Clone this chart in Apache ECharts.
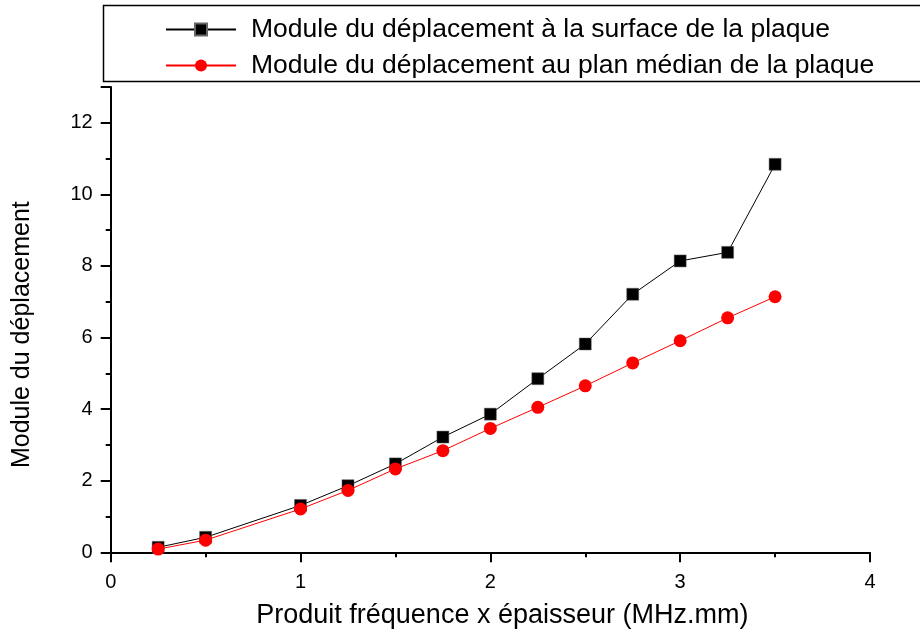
<!DOCTYPE html>
<html>
<head>
<meta charset="utf-8">
<script src="https://cdn.jsdelivr.net/npm/echarts@6/dist/echarts.min.js"></script>
<style>html,body{margin:0;padding:0;background:#fff}#c{width:920px;height:634px}</style>
</head>
<body>
<div id="c"></div>
<script>
const xValues = [0.25, 0.5, 1, 1.25, 1.5, 1.75, 2, 2.25, 2.5, 2.75, 3, 3.25, 3.5];
const surfaceValues = [0.14, 0.42, 1.31, 1.86, 2.47, 3.22, 3.86, 4.85, 5.82, 7.21, 8.14, 8.38, 10.84];
const medianValues = [0.09, 0.34, 1.21, 1.73, 2.33, 2.84, 3.46, 4.05, 4.65, 5.29, 5.91, 6.55, 7.14];
const seriesNames = ['Module du déplacement à la surface de la plaque', 'Module du déplacement au plan médian de la plaque'];
const xTitle = 'Produit fréquence x épaisseur (MHz.mm)';
const yTitle = 'Module du déplacement';

const pair = (xs, ys) => xs.map((x, i) => [x, ys[i]]);
const font = '"Liberation Sans", Arial, sans-serif';

const chart = echarts.init(document.getElementById('c'), null, {renderer: 'canvas'});
chart.setOption({
  animation: false,
  backgroundColor: '#fff',
  grid: {left: 110.7, right: 50, top: 87, bottom: 81.7, outerBoundsMode: 'none', containLabel: false},
  graphic: [{
    type: 'rect', z: 0,
    shape: {x: 103.5, y: 5.5, width: 840, height: 76},
    style: {fill: 'none', stroke: '#000', lineWidth: 1.5}
  }],
  legend: {
    orient: 'vertical', left: 165, top: 16, padding: 0,
    itemWidth: 70, itemHeight: 15, itemGap: 9,
    textStyle: {fontFamily: font, fontSize: 26.5, color: '#000', padding: [0, 0, 0, 10]},
    data: seriesNames
  },
  xAxis: {
    type: 'value', min: 0, max: 4, interval: 1,
    name: xTitle, nameLocation: 'middle', nameGap: 50,
    nameTextStyle: {fontFamily: font, fontSize: 27, color: '#000', padding: [0, 0, 0, 24]},
    axisLine: {show: true, onZero: false, lineStyle: {color: '#000', width: 2}},
    axisTick: {show: true, length: 10, lineStyle: {color: '#000', width: 2}},
    minorTick: {show: true, splitNumber: 2, length: 5, lineStyle: {color: '#000', width: 2}},
    axisLabel: {fontFamily: font, fontSize: 20, color: '#000', margin: 20},
    splitLine: {show: false}
  },
  yAxis: {
    type: 'value', min: 0, max: 13, interval: 2,
    name: yTitle, nameLocation: 'middle', nameGap: 76, nameRotate: 90,
    nameTextStyle: {fontFamily: font, fontSize: 25, color: '#000', padding: [0, 0, 0, -30]},
    axisLine: {show: true, onZero: false, lineStyle: {color: '#000', width: 2}},
    axisTick: {show: true, length: 10, lineStyle: {color: '#000', width: 2}},
    minorTick: {show: true, splitNumber: 2, length: 5, lineStyle: {color: '#000', width: 2}},
    axisLabel: {fontFamily: font, fontSize: 20, color: '#000', margin: 18, showMaxLabel: false},
    splitLine: {show: false}
  },
  series: [{
    name: seriesNames[0], type: 'line', data: pair(xValues, surfaceValues),
    symbol: 'rect', symbolSize: 12, color: '#000',
    lineStyle: {color: '#000', width: 1},
    itemStyle: {color: '#000', borderColor: '#666', borderWidth: 0.5}
  }, {
    name: seriesNames[1], type: 'line', data: pair(xValues, medianValues),
    symbol: 'circle', symbolSize: 13, color: '#ff0000',
    lineStyle: {color: '#ff0000', width: 1},
    itemStyle: {color: '#ff0000'}
  }]
});
</script>
</body>
</html>
